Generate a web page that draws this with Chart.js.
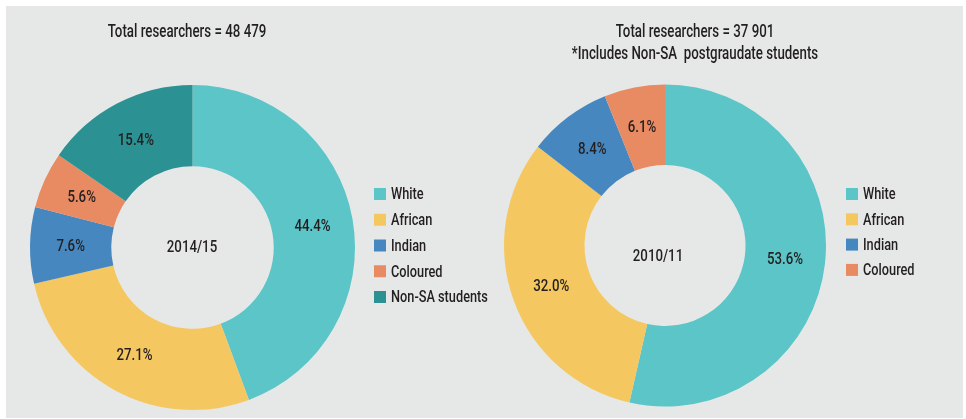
<!DOCTYPE html>
<html>
<head>
<meta charset="utf-8">
<script src="https://cdn.jsdelivr.net/npm/chart.js"></script>
<style>
  html, body { margin: 0; padding: 0; background: #ffffff; }
  #wrap { position: relative; width: 966px; height: 419px; }
  #bg { position: absolute; left: 6px; top: 6px; width: 957px; height: 412px; background: #e6e8e7; }
  canvas { position: absolute; top: 0; }
  #c1 { left: 0; }
  #c2 { left: 483px; }
</style>
</head>
<body>
<div id="wrap">
  <div id="bg"></div>
  <canvas id="c1" width="520" height="419"></canvas>
  <canvas id="c2" width="483" height="419"></canvas>
</div>
<script>
// data
const labels2014 = ['White', 'African', 'Indian', 'Coloured', 'Non-SA students'];
const values2014 = [44.4, 27.1, 7.6, 5.6, 15.4];
const labels2010 = ['White', 'African', 'Indian', 'Coloured'];
const values2010 = [53.6, 32.0, 8.4, 6.1];
const titles2014 = ['Total researchers = 48 479'];
const titles2010 = ['Total researchers = 37 901', '*Includes Non-SA  postgraudate students'];

const groupColors = ['#5bc5c8', '#f5c760', '#4787c0', '#e88a62', '#2b9192'];
const FAMILY = "Roboto, 'DejaVu Sans', sans-serif";
const TEXT = '#231f20';

// text drawn narrower to mimic the condensed font of the original
function squeezedText(ctx, text, x, y, size, squeeze, align) {
    ctx.save();
    ctx.font = '500 ' + size + 'px ' + FAMILY;
    ctx.translate(x, y);
    ctx.scale(squeeze, 1);
    ctx.textAlign = align || 'center';
    ctx.fillText(text, 0, 0);
    ctx.restore();
}

// draws the % labels, centre text, titles and legend
const decorPlugin = {
    id: 'decor',
    afterDraw(chart, args, opts) {
        const ctx = chart.ctx;
        ctx.save();
        ctx.fillStyle = TEXT;
        ctx.textBaseline = 'middle';

        // slice labels
        const meta = chart.getDatasetMeta(0);
        const vals = chart.data.datasets[0].data;
        meta.data.forEach((arc, i) => {
            const p = arc.tooltipPosition();
            squeezedText(ctx, vals[i].toFixed(1) + '%', p.x, p.y + 1, 17, 0.78);
        });

        // centre text
        squeezedText(ctx, opts.center, opts.centerX, opts.centerY, 17, 0.78);

        // titles
        opts.titles.forEach((t, i) => {
            squeezedText(ctx, t, opts.titleX, 32 + i * 22, 19, 0.70);
        });

        // legend
        const colors = chart.data.datasets[0].backgroundColor;
        chart.data.labels.forEach((lab, i) => {
            const y = opts.legendY + i * opts.legendStep;
            ctx.fillStyle = colors[i];
            ctx.fillRect(opts.legendX, y - 6, 12, 12);
            ctx.fillStyle = TEXT;
            squeezedText(ctx, lab, opts.legendX + 17, y + 1, 17, 0.75, 'left');
        });
        ctx.restore();
    }
};

function makeChart(id, labels, values, padding, decor) {
    const ctx = document.getElementById(id).getContext('2d');
    return new Chart(ctx, {
        type: 'doughnut',
        data: {
            labels: labels,
            datasets: [{
                data: values,
                backgroundColor: groupColors.slice(0, labels.length),
                borderWidth: 0
            }]
        },
        options: {
            responsive: false,
            animation: false,
            cutout: '50%',
            layout: { padding: padding },
            plugins: {
                legend: { display: false },
                tooltip: { enabled: false },
                decor: decor
            }
        },
        plugins: [decorPlugin]
    });
}

makeChart('c1', labels2014, values2014,
    { left: 30, right: 165, top: 85, bottom: 9 },
    { center: '2014/15', centerX: 192, centerY: 248, titles: titles2014, titleX: 187,
      legendX: 374, legendY: 194, legendStep: 25.75 });

makeChart('c2', labels2010, values2010,
    { left: 21, right: 140, top: 84, bottom: 12 },
    { center: '2010/11', centerX: 175, centerY: 257, titles: titles2010, titleX: 212,
      legendX: 363, legendY: 194, legendStep: 25.3 });
</script>
</body>
</html>
